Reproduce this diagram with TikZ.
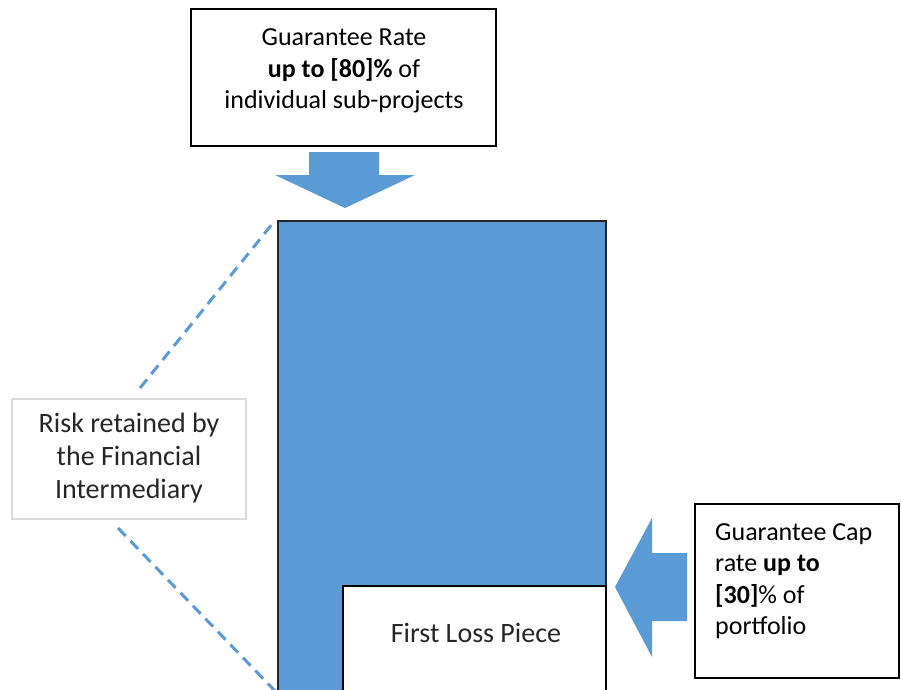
\documentclass[tikz,border=0pt]{standalone}
\usepackage{fontspec}
\setmainfont{Carlito}
\definecolor{offblue}{HTML}{5B9BD5}
\definecolor{lightgrey}{HTML}{D9D9D9}
\begin{document}
\begin{tikzpicture}[x=1pt,y=-1pt,
  boxline/.style={draw=black,line width=1.4pt,fill=white},
  txt/.style={font=\fontsize{26}{31.5}\selectfont,inner sep=0pt},
  bigtxt/.style={font=\fontsize{28}{33}\selectfont,inner sep=0pt,text=black!85},
  blockarrow/.style={fill=offblue,draw=none},
  dashlink/.style={draw=offblue,line width=3pt,dash pattern=on 11pt off 7pt}]
\clip (0,0) rectangle (901,689);
\fill[white] (0,0) rectangle (901,689);
% top box
\draw[boxline] (191,9) rectangle (496,146);
\node[txt,align=center] (toptext) at (344,71) {Guarantee Rate\\\textbf{up to [80]\%} of\\individual sub-projects};
% down arrow
\fill[blockarrow] (309,152) -- (379,152) -- (379,175) -- (415,175) -- (345,208) -- (275,175) -- (309,175) -- cycle;
% big blue block
\draw[fill=offblue,draw=black!85,line width=1.6pt] (278,221) rectangle (606,700);
\coordinate (bigtl) at (273,223);
\coordinate (bigbl) at (276,692);
% first loss piece
\draw[boxline] (343,586) rectangle (606,700);
\node[bigtxt,anchor=base] (flp) at (476,642) {First Loss Piece};
% left arrow
\fill[blockarrow] (615,587) -- (652,518) -- (652,553) -- (687,553) -- (687,621) -- (652,621) -- (652,657) -- cycle;
% right box
\draw[boxline] (695,504) rectangle (899,678);
\node[txt,align=left,anchor=west] (captext) at (715,581) {Guarantee Cap\\rate \textbf{up to}\\\textbf{[30]}\% of\\portfolio};
% left box
\draw[draw=lightgrey,line width=1.2pt,fill=white] (12,399) rectangle (246,519);
\node[bigtxt,align=center] (risk) at (129,458) {Risk retained by\\the Financial\\Intermediary};
\coordinate (riskup) at (140,388);
\coordinate (riskdown) at (118,528);
% dashed connectors
\draw[dashlink] (riskup) -- (bigtl);
\draw[dashlink] (riskdown) -- (bigbl);
\end{tikzpicture}
\end{document}
